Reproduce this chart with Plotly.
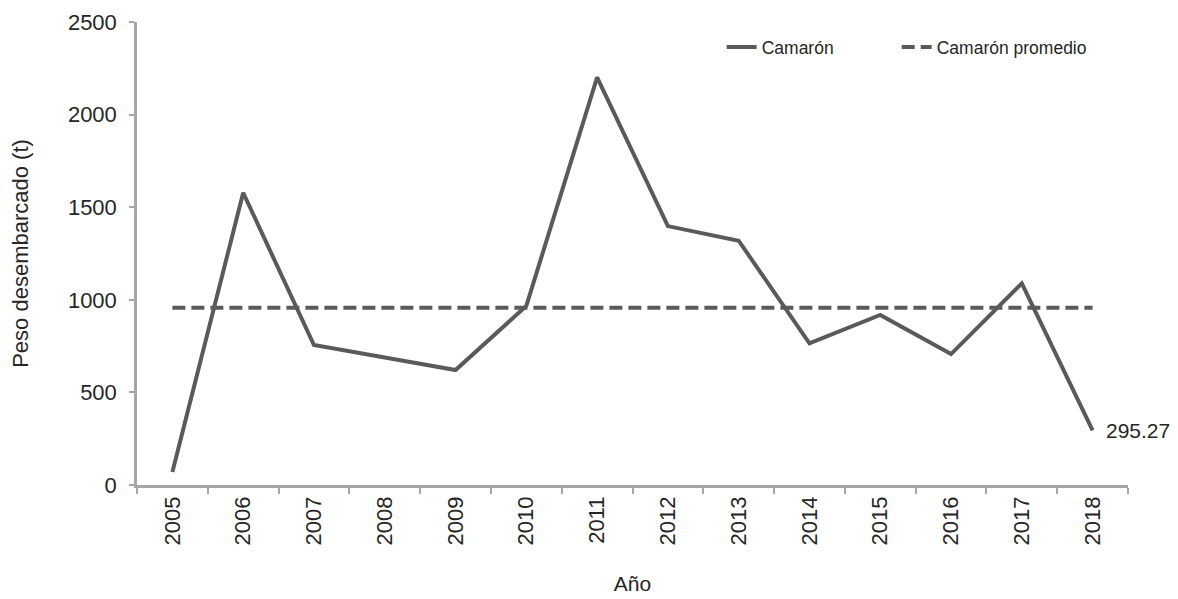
import plotly.graph_objects as go

years = ["2005", "2006", "2007", "2008", "2009", "2010", "2011",
         "2012", "2013", "2014", "2015", "2016", "2017", "2018"]
camaron = [70, 1578, 756, 688, 621, 967, 2201, 1398, 1319, 765, 918, 707, 1089, 295.27]
promedio_value = 957
promedio = [promedio_value] * len(years)
y_ticks = [0, 500, 1000, 1500, 2000, 2500]

LINE = "#5a5a5a"
AXIS = "#a6a6a6"
TXT = "#262626"
FONT = "Liberation Sans, Arial, sans-serif"

fig = go.Figure()
fig.add_trace(go.Scatter(x=years, y=camaron, mode="lines", name="Camarón",
                         line=dict(color=LINE, width=4), legend="legend"))
fig.add_trace(go.Scatter(x=years, y=promedio, mode="lines", name="Camarón promedio",
                         line=dict(color=LINE, width=4, dash="13px,6px"), legend="legend2"))

fig.add_annotation(x=len(years) - 1, y=camaron[-1], text=f"{camaron[-1]:.2f}",
                   showarrow=False, xanchor="left", yanchor="middle", xshift=11,
                   font=dict(family=FONT, size=21, color=TXT))

legend_style = dict(orientation="h", xanchor="left", y=0.946, yanchor="middle",
                    font=dict(family=FONT, size=17.5, color=TXT),
                    bgcolor="rgba(0,0,0,0)")

fig.update_layout(
    width=1170, height=591,
    margin=dict(l=129, r=50, t=14, b=114),
    paper_bgcolor="white", plot_bgcolor="white",
    font=dict(family=FONT, color=TXT),
    showlegend=True,
    legend=dict(x=0.590, **legend_style),
    legend2=dict(x=0.7666, **legend_style),
    xaxis=dict(type="category", tickson="boundaries", ticks="outside", ticklen=6,
               tickcolor=AXIS, tickwidth=1.5, showline=True, linecolor=AXIS, linewidth=2.5,
               tickangle=-90, tickfont=dict(family=FONT, size=22, color=TXT),
               showgrid=False, zeroline=False, automargin=False,
               title=dict(text="Año", font=dict(family=FONT, size=21, color=TXT), standoff=32),
               range=[-0.5, 13.5]),
    yaxis=dict(range=[0, 2500], tickvals=y_ticks, ticks="outside", ticklen=5,
               ticklabelstandoff=8,
               tickcolor=AXIS, tickwidth=1.5, showline=True, linecolor=AXIS, linewidth=2.5,
               tickfont=dict(family=FONT, size=22, color=TXT),
               showgrid=False, zeroline=False, automargin=False,
               title=dict(text="Peso desembarcado (t)", font=dict(family=FONT, size=22, color=TXT),
                          standoff=38)),
)

fig.write_html("out.html")
